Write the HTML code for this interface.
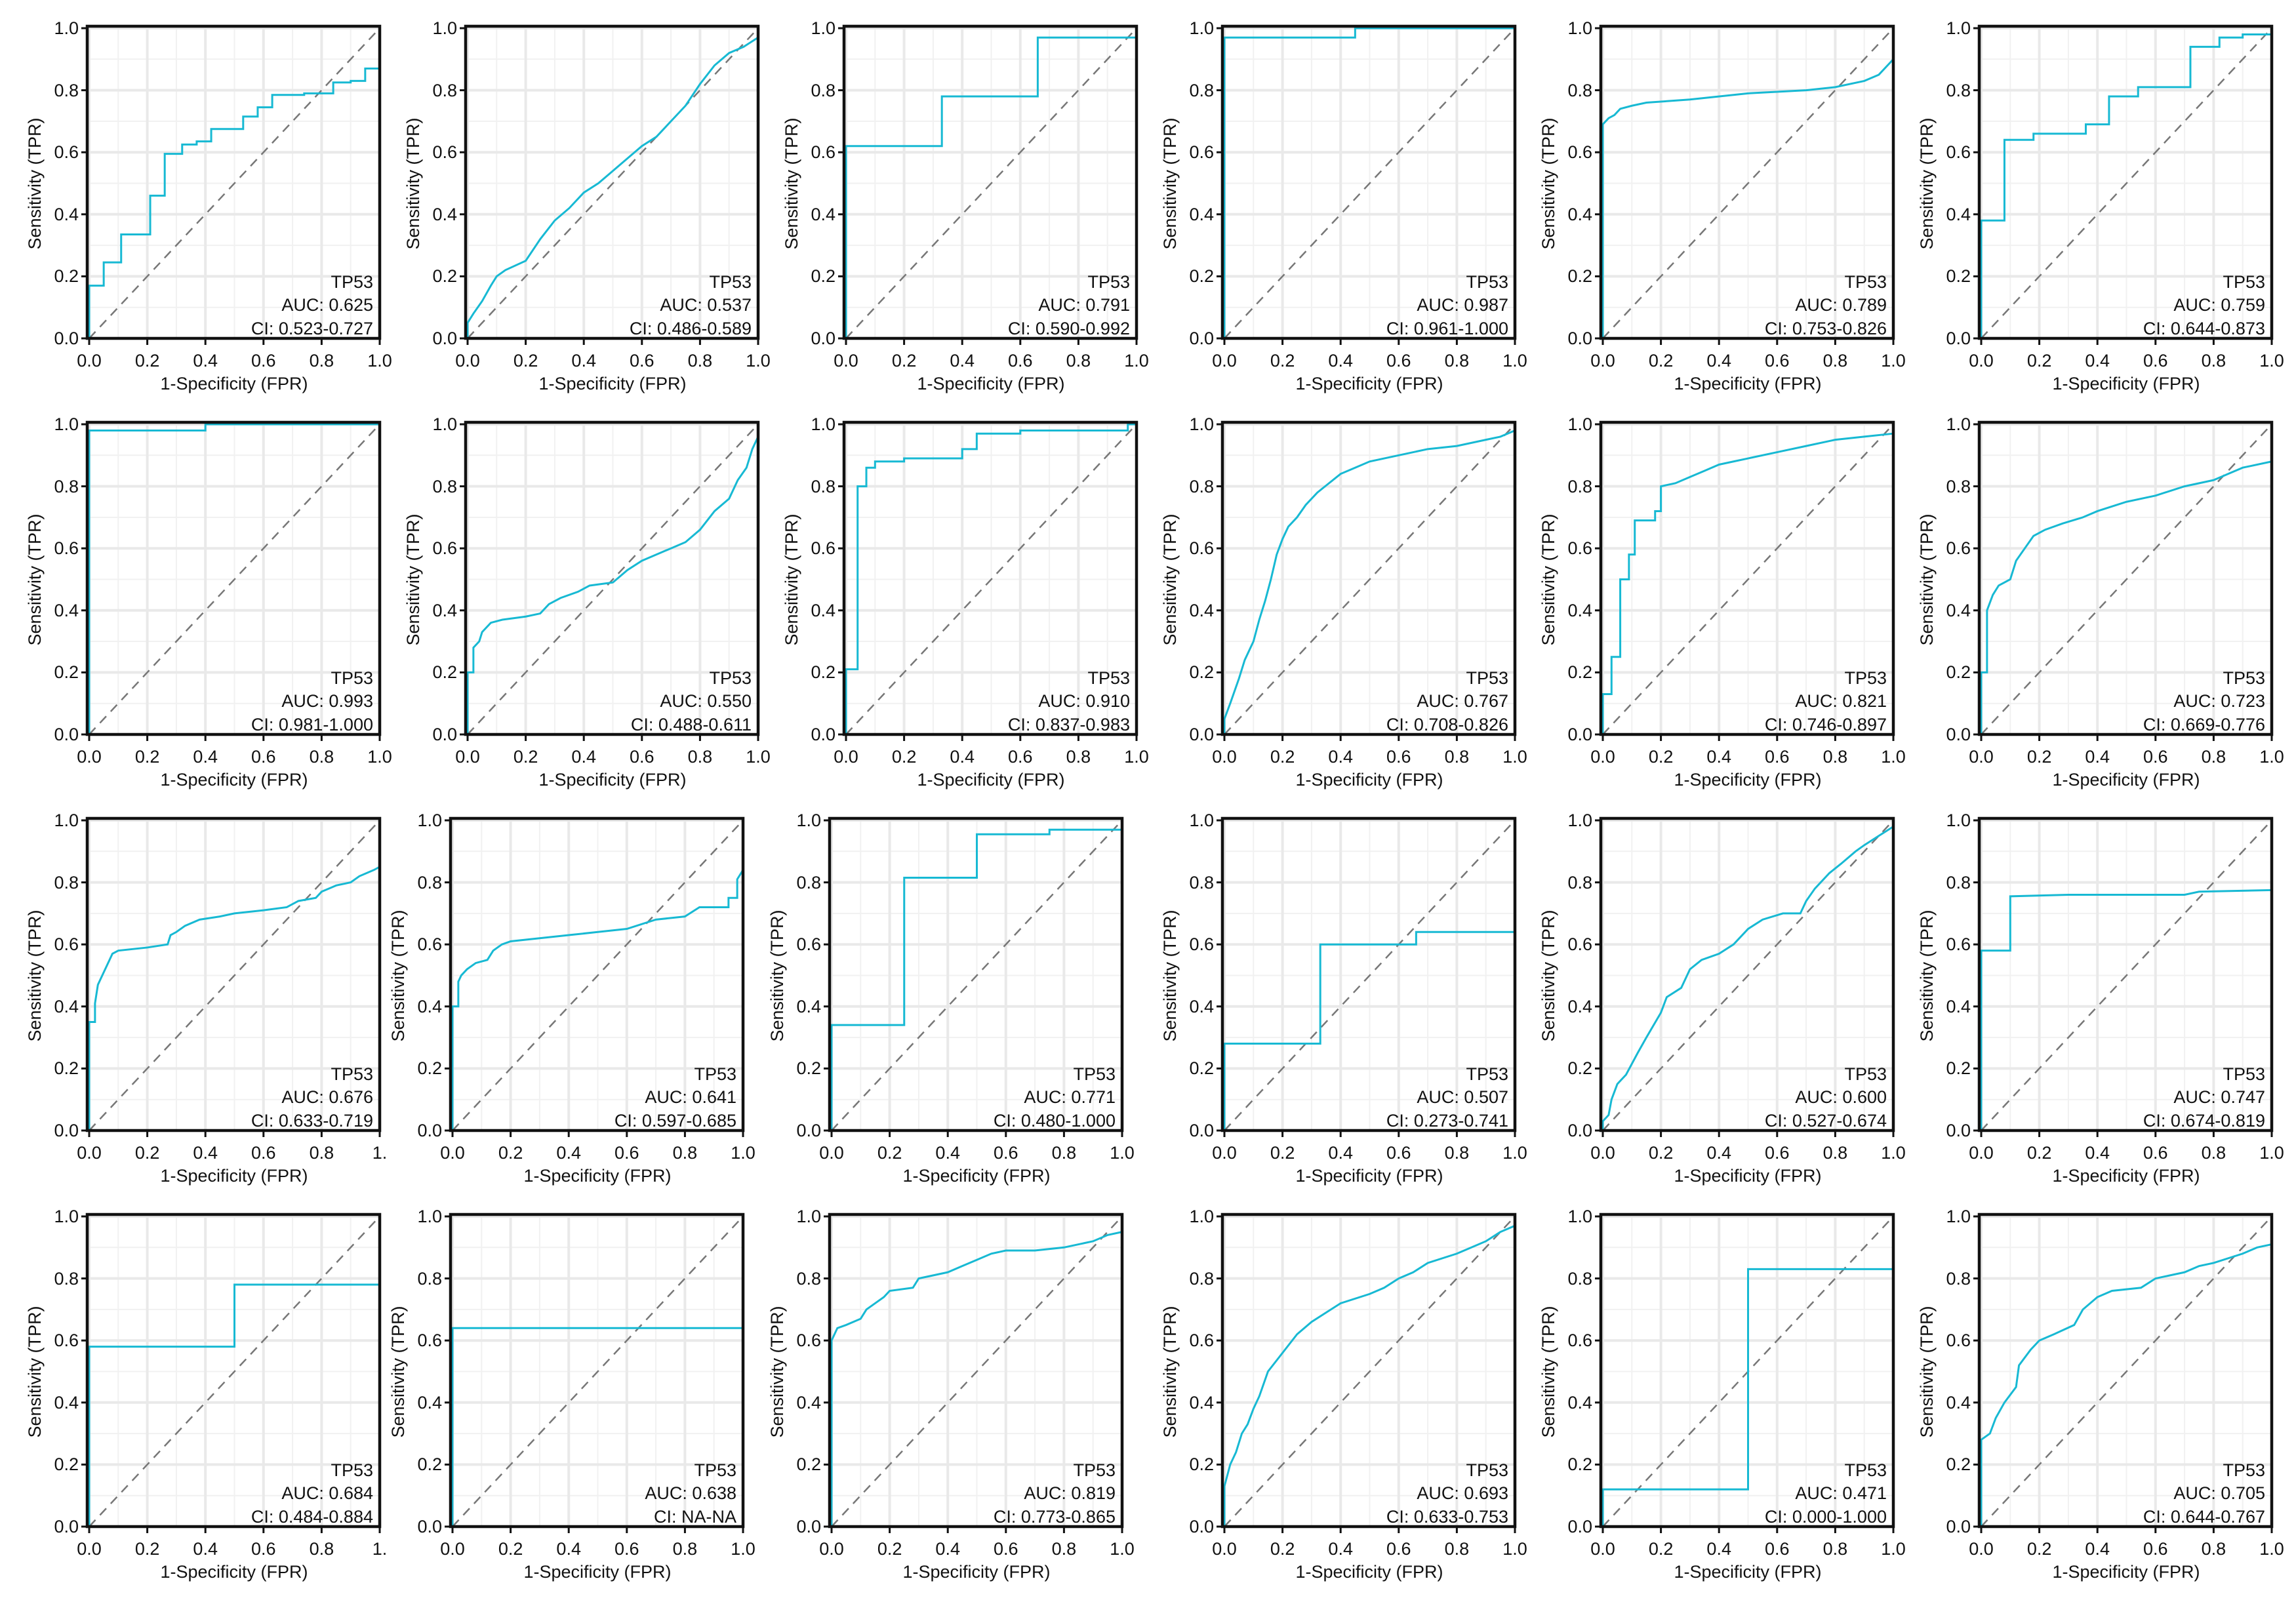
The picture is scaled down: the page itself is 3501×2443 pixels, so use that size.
<!DOCTYPE html>
<html><head><meta charset="utf-8">
<style>
html,body{margin:0;padding:0;background:#fff;}
svg{display:block;}
text{font-family:"Liberation Sans",Arial,sans-serif;fill:#111;font-size:27px;}
.c{fill:none;stroke:#17b9d3;stroke-width:3;vector-effect:non-scaling-stroke;stroke-linejoin:miter;}
.ya{text-anchor:end;}
.xa{text-anchor:middle;}
.an{text-anchor:end;}
</style></head><body>
<svg width="3501" height="2443" viewBox="0 0 3501 2443" xmlns="http://www.w3.org/2000/svg">
<defs>
<g id="bg">
<rect x="-3" y="-476" width="446" height="476" fill="#fff"/>
<g stroke="#f1f1f1" stroke-width="2">
<line x1="44.3" y1="0" x2="44.3" y2="-476"/><line x1="132.9" y1="0" x2="132.9" y2="-476"/><line x1="221.5" y1="0" x2="221.5" y2="-476"/><line x1="310.1" y1="0" x2="310.1" y2="-476"/><line x1="398.7" y1="0" x2="398.7" y2="-476"/>
<line x1="-3" y1="-47.3" x2="443" y2="-47.3"/><line x1="-3" y1="-141.9" x2="443" y2="-141.9"/><line x1="-3" y1="-236.5" x2="443" y2="-236.5"/><line x1="-3" y1="-331.1" x2="443" y2="-331.1"/><line x1="-3" y1="-425.7" x2="443" y2="-425.7"/>
</g>
<g stroke="#e9e9e9" stroke-width="4">
<line x1="0" y1="0" x2="0" y2="-476"/><line x1="88.6" y1="0" x2="88.6" y2="-476"/><line x1="177.2" y1="0" x2="177.2" y2="-476"/><line x1="265.8" y1="0" x2="265.8" y2="-476"/><line x1="354.4" y1="0" x2="354.4" y2="-476"/><line x1="443" y1="0" x2="443" y2="-476"/>
<line x1="-3" y1="0" x2="443" y2="0"/><line x1="-3" y1="-94.6" x2="443" y2="-94.6"/><line x1="-3" y1="-189.2" x2="443" y2="-189.2"/><line x1="-3" y1="-283.8" x2="443" y2="-283.8"/><line x1="-3" y1="-378.4" x2="443" y2="-378.4"/><line x1="-3" y1="-473" x2="443" y2="-473"/>
</g>
<line x1="0" y1="0" x2="443" y2="-473" stroke="#777" stroke-width="2.5" stroke-dasharray="14 10"/>
</g>
<g id="bx">
<rect x="-3" y="-476" width="446" height="476" fill="none" stroke="#111" stroke-width="4.5"/>
<g stroke="#111" stroke-width="3">
<line x1="-3" y1="0" x2="-12" y2="0"/><line x1="-3" y1="-94.6" x2="-12" y2="-94.6"/><line x1="-3" y1="-189.2" x2="-12" y2="-189.2"/><line x1="-3" y1="-283.8" x2="-12" y2="-283.8"/><line x1="-3" y1="-378.4" x2="-12" y2="-378.4"/><line x1="-3" y1="-473" x2="-12" y2="-473"/>
<line x1="0" y1="0" x2="0" y2="10"/><line x1="88.6" y1="0" x2="88.6" y2="10"/><line x1="177.2" y1="0" x2="177.2" y2="10"/><line x1="265.8" y1="0" x2="265.8" y2="10"/><line x1="354.4" y1="0" x2="354.4" y2="10"/><line x1="443" y1="0" x2="443" y2="10"/>
</g>
</g>
</defs>

<!-- Row 1 -->
<g transform="translate(136,516)"><use href="#bg"/><polyline class="c" transform="scale(443,-473)" points="0,0 0,.17 .05,.17 .05,.245 .11,.245 .11,.335 .21,.335 .21,.46 .26,.46 .26,.595 .32,.595 .32,.625 .37,.625 .37,.635 .42,.635 .42,.675 .53,.675 .53,.715 .58,.715 .58,.745 .63,.745 .63,.785 .74,.785 .74,.79 .84,.79 .84,.825 .9,.825 .9,.83 .95,.83 .95,.87 1,.87"/><use href="#bx"/>
<text class="ya"><tspan x="-16" y="9">0.0</tspan><tspan x="-16" y="-86">0.2</tspan><tspan x="-16" y="-180">0.4</tspan><tspan x="-16" y="-275">0.6</tspan><tspan x="-16" y="-369">0.8</tspan><tspan x="-16" y="-464">1.0</tspan></text>
<text class="xa"><tspan x="0" y="43">0.0</tspan><tspan x="88.6" y="43">0.2</tspan><tspan x="177.2" y="43">0.4</tspan><tspan x="265.8" y="43">0.6</tspan><tspan x="354.4" y="43">0.8</tspan><tspan x="443" y="43">1.0</tspan></text>
<text class="xa" x="221" y="78">1-Specificity (FPR)</text><text class="xa" transform="translate(-74,-236) rotate(-90)">Sensitivity (TPR)</text>
<text class="an"><tspan x="433" y="-77">TP53</tspan><tspan x="433" y="-42">AUC: 0.625</tspan><tspan x="433" y="-6">CI: 0.523-0.727</tspan></text></g>

<g transform="translate(713,516)"><use href="#bg"/><polyline class="c" transform="scale(443,-473)" points="0,0 0,.05 .02,.08 .05,.12 .08,.17 .1,.2 .13,.22 .2,.25 .25,.32 .3,.38 .35,.42 .4,.47 .45,.5 .5,.54 .55,.58 .6,.62 .65,.65 .7,.7 .75,.75 .8,.82 .85,.88 .9,.92 .95,.94 1,.97"/><use href="#bx"/>
<text class="ya"><tspan x="-16" y="9">0.0</tspan><tspan x="-16" y="-86">0.2</tspan><tspan x="-16" y="-180">0.4</tspan><tspan x="-16" y="-275">0.6</tspan><tspan x="-16" y="-369">0.8</tspan><tspan x="-16" y="-464">1.0</tspan></text>
<text class="xa"><tspan x="0" y="43">0.0</tspan><tspan x="88.6" y="43">0.2</tspan><tspan x="177.2" y="43">0.4</tspan><tspan x="265.8" y="43">0.6</tspan><tspan x="354.4" y="43">0.8</tspan><tspan x="443" y="43">1.0</tspan></text>
<text class="xa" x="221" y="78">1-Specificity (FPR)</text><text class="xa" transform="translate(-74,-236) rotate(-90)">Sensitivity (TPR)</text>
<text class="an"><tspan x="433" y="-77">TP53</tspan><tspan x="433" y="-42">AUC: 0.537</tspan><tspan x="433" y="-6">CI: 0.486-0.589</tspan></text></g>

<g transform="translate(1290,516)"><use href="#bg"/><polyline class="c" transform="scale(443,-473)" points="0,0 0,.62 .33,.62 .33,.78 .66,.78 .66,.97 1,.97"/><use href="#bx"/>
<text class="ya"><tspan x="-16" y="9">0.0</tspan><tspan x="-16" y="-86">0.2</tspan><tspan x="-16" y="-180">0.4</tspan><tspan x="-16" y="-275">0.6</tspan><tspan x="-16" y="-369">0.8</tspan><tspan x="-16" y="-464">1.0</tspan></text>
<text class="xa"><tspan x="0" y="43">0.0</tspan><tspan x="88.6" y="43">0.2</tspan><tspan x="177.2" y="43">0.4</tspan><tspan x="265.8" y="43">0.6</tspan><tspan x="354.4" y="43">0.8</tspan><tspan x="443" y="43">1.0</tspan></text>
<text class="xa" x="221" y="78">1-Specificity (FPR)</text><text class="xa" transform="translate(-74,-236) rotate(-90)">Sensitivity (TPR)</text>
<text class="an"><tspan x="433" y="-77">TP53</tspan><tspan x="433" y="-42">AUC: 0.791</tspan><tspan x="433" y="-6">CI: 0.590-0.992</tspan></text></g>

<g transform="translate(1867,516)"><use href="#bg"/><polyline class="c" transform="scale(443,-473)" points="0,0 0,.97 .45,.97 .45,1 1,1"/><use href="#bx"/>
<text class="ya"><tspan x="-16" y="9">0.0</tspan><tspan x="-16" y="-86">0.2</tspan><tspan x="-16" y="-180">0.4</tspan><tspan x="-16" y="-275">0.6</tspan><tspan x="-16" y="-369">0.8</tspan><tspan x="-16" y="-464">1.0</tspan></text>
<text class="xa"><tspan x="0" y="43">0.0</tspan><tspan x="88.6" y="43">0.2</tspan><tspan x="177.2" y="43">0.4</tspan><tspan x="265.8" y="43">0.6</tspan><tspan x="354.4" y="43">0.8</tspan><tspan x="443" y="43">1.0</tspan></text>
<text class="xa" x="221" y="78">1-Specificity (FPR)</text><text class="xa" transform="translate(-74,-236) rotate(-90)">Sensitivity (TPR)</text>
<text class="an"><tspan x="433" y="-77">TP53</tspan><tspan x="433" y="-42">AUC: 0.987</tspan><tspan x="433" y="-6">CI: 0.961-1.000</tspan></text></g>

<g transform="translate(2444,516)"><use href="#bg"/><polyline class="c" transform="scale(443,-473)" points="0,0 0,.69 .02,.71 .04,.72 .06,.74 .1,.75 .15,.76 .3,.77 .5,.79 .7,.8 .8,.81 .9,.83 .95,.85 .98,.88 1,.9"/><use href="#bx"/>
<text class="ya"><tspan x="-16" y="9">0.0</tspan><tspan x="-16" y="-86">0.2</tspan><tspan x="-16" y="-180">0.4</tspan><tspan x="-16" y="-275">0.6</tspan><tspan x="-16" y="-369">0.8</tspan><tspan x="-16" y="-464">1.0</tspan></text>
<text class="xa"><tspan x="0" y="43">0.0</tspan><tspan x="88.6" y="43">0.2</tspan><tspan x="177.2" y="43">0.4</tspan><tspan x="265.8" y="43">0.6</tspan><tspan x="354.4" y="43">0.8</tspan><tspan x="443" y="43">1.0</tspan></text>
<text class="xa" x="221" y="78">1-Specificity (FPR)</text><text class="xa" transform="translate(-74,-236) rotate(-90)">Sensitivity (TPR)</text>
<text class="an"><tspan x="433" y="-77">TP53</tspan><tspan x="433" y="-42">AUC: 0.789</tspan><tspan x="433" y="-6">CI: 0.753-0.826</tspan></text></g>

<g transform="translate(3021,516)"><use href="#bg"/><polyline class="c" transform="scale(443,-473)" points="0,0 0,.38 .08,.38 .08,.64 .18,.64 .18,.66 .36,.66 .36,.69 .44,.69 .44,.78 .54,.78 .54,.81 .72,.81 .72,.94 .82,.94 .82,.97 .9,.97 .9,.98 1,.98"/><use href="#bx"/>
<text class="ya"><tspan x="-16" y="9">0.0</tspan><tspan x="-16" y="-86">0.2</tspan><tspan x="-16" y="-180">0.4</tspan><tspan x="-16" y="-275">0.6</tspan><tspan x="-16" y="-369">0.8</tspan><tspan x="-16" y="-464">1.0</tspan></text>
<text class="xa"><tspan x="0" y="43">0.0</tspan><tspan x="88.6" y="43">0.2</tspan><tspan x="177.2" y="43">0.4</tspan><tspan x="265.8" y="43">0.6</tspan><tspan x="354.4" y="43">0.8</tspan><tspan x="443" y="43">1.0</tspan></text>
<text class="xa" x="221" y="78">1-Specificity (FPR)</text><text class="xa" transform="translate(-74,-236) rotate(-90)">Sensitivity (TPR)</text>
<text class="an"><tspan x="433" y="-77">TP53</tspan><tspan x="433" y="-42">AUC: 0.759</tspan><tspan x="433" y="-6">CI: 0.644-0.873</tspan></text></g>

<!-- Row 2 -->
<g transform="translate(136,1120)"><use href="#bg"/><polyline class="c" transform="scale(443,-473)" points="0,0 0,.98 .4,.98 .4,1 1,1"/><use href="#bx"/>
<text class="ya"><tspan x="-16" y="9">0.0</tspan><tspan x="-16" y="-86">0.2</tspan><tspan x="-16" y="-180">0.4</tspan><tspan x="-16" y="-275">0.6</tspan><tspan x="-16" y="-369">0.8</tspan><tspan x="-16" y="-464">1.0</tspan></text>
<text class="xa"><tspan x="0" y="43">0.0</tspan><tspan x="88.6" y="43">0.2</tspan><tspan x="177.2" y="43">0.4</tspan><tspan x="265.8" y="43">0.6</tspan><tspan x="354.4" y="43">0.8</tspan><tspan x="443" y="43">1.0</tspan></text>
<text class="xa" x="221" y="78">1-Specificity (FPR)</text><text class="xa" transform="translate(-74,-236) rotate(-90)">Sensitivity (TPR)</text>
<text class="an"><tspan x="433" y="-77">TP53</tspan><tspan x="433" y="-42">AUC: 0.993</tspan><tspan x="433" y="-6">CI: 0.981-1.000</tspan></text></g>

<g transform="translate(713,1120)"><use href="#bg"/><polyline class="c" transform="scale(443,-473)" points="0,0 0,.2 .02,.2 .02,.28 .04,.3 .05,.33 .08,.36 .12,.37 .2,.38 .25,.39 .28,.42 .32,.44 .38,.46 .42,.48 .5,.49 .55,.53 .6,.56 .65,.58 .7,.6 .75,.62 .8,.66 .85,.72 .9,.76 .93,.82 .96,.86 .98,.92 1,.96"/><use href="#bx"/>
<text class="ya"><tspan x="-16" y="9">0.0</tspan><tspan x="-16" y="-86">0.2</tspan><tspan x="-16" y="-180">0.4</tspan><tspan x="-16" y="-275">0.6</tspan><tspan x="-16" y="-369">0.8</tspan><tspan x="-16" y="-464">1.0</tspan></text>
<text class="xa"><tspan x="0" y="43">0.0</tspan><tspan x="88.6" y="43">0.2</tspan><tspan x="177.2" y="43">0.4</tspan><tspan x="265.8" y="43">0.6</tspan><tspan x="354.4" y="43">0.8</tspan><tspan x="443" y="43">1.0</tspan></text>
<text class="xa" x="221" y="78">1-Specificity (FPR)</text><text class="xa" transform="translate(-74,-236) rotate(-90)">Sensitivity (TPR)</text>
<text class="an"><tspan x="433" y="-77">TP53</tspan><tspan x="433" y="-42">AUC: 0.550</tspan><tspan x="433" y="-6">CI: 0.488-0.611</tspan></text></g>

<g transform="translate(1290,1120)"><use href="#bg"/><polyline class="c" transform="scale(443,-473)" points="0,0 0,.21 .04,.21 .04,.8 .07,.8 .07,.86 .1,.86 .1,.88 .2,.88 .2,.89 .4,.89 .4,.92 .45,.92 .45,.97 .6,.97 .6,.98 .97,.98 .97,1 1,1"/><use href="#bx"/>
<text class="ya"><tspan x="-16" y="9">0.0</tspan><tspan x="-16" y="-86">0.2</tspan><tspan x="-16" y="-180">0.4</tspan><tspan x="-16" y="-275">0.6</tspan><tspan x="-16" y="-369">0.8</tspan><tspan x="-16" y="-464">1.0</tspan></text>
<text class="xa"><tspan x="0" y="43">0.0</tspan><tspan x="88.6" y="43">0.2</tspan><tspan x="177.2" y="43">0.4</tspan><tspan x="265.8" y="43">0.6</tspan><tspan x="354.4" y="43">0.8</tspan><tspan x="443" y="43">1.0</tspan></text>
<text class="xa" x="221" y="78">1-Specificity (FPR)</text><text class="xa" transform="translate(-74,-236) rotate(-90)">Sensitivity (TPR)</text>
<text class="an"><tspan x="433" y="-77">TP53</tspan><tspan x="433" y="-42">AUC: 0.910</tspan><tspan x="433" y="-6">CI: 0.837-0.983</tspan></text></g>

<g transform="translate(1867,1120)"><use href="#bg"/><polyline class="c" transform="scale(443,-473)" points="0,0 0,.05 .02,.1 .05,.18 .07,.24 .1,.3 .12,.37 .14,.43 .16,.5 .18,.58 .2,.63 .22,.67 .25,.7 .28,.74 .32,.78 .36,.81 .4,.84 .45,.86 .5,.88 .6,.9 .7,.92 .8,.93 .9,.95 .95,.96 1,.98"/><use href="#bx"/>
<text class="ya"><tspan x="-16" y="9">0.0</tspan><tspan x="-16" y="-86">0.2</tspan><tspan x="-16" y="-180">0.4</tspan><tspan x="-16" y="-275">0.6</tspan><tspan x="-16" y="-369">0.8</tspan><tspan x="-16" y="-464">1.0</tspan></text>
<text class="xa"><tspan x="0" y="43">0.0</tspan><tspan x="88.6" y="43">0.2</tspan><tspan x="177.2" y="43">0.4</tspan><tspan x="265.8" y="43">0.6</tspan><tspan x="354.4" y="43">0.8</tspan><tspan x="443" y="43">1.0</tspan></text>
<text class="xa" x="221" y="78">1-Specificity (FPR)</text><text class="xa" transform="translate(-74,-236) rotate(-90)">Sensitivity (TPR)</text>
<text class="an"><tspan x="433" y="-77">TP53</tspan><tspan x="433" y="-42">AUC: 0.767</tspan><tspan x="433" y="-6">CI: 0.708-0.826</tspan></text></g>

<g transform="translate(2444,1120)"><use href="#bg"/><polyline class="c" transform="scale(443,-473)" points="0,0 0,.13 .03,.13 .03,.25 .06,.25 .06,.5 .09,.5 .09,.58 .11,.58 .11,.69 .18,.69 .18,.72 .2,.72 .2,.8 .25,.81 .3,.83 .35,.85 .4,.87 .45,.88 .5,.89 .6,.91 .7,.93 .8,.95 .9,.96 1,.97"/><use href="#bx"/>
<text class="ya"><tspan x="-16" y="9">0.0</tspan><tspan x="-16" y="-86">0.2</tspan><tspan x="-16" y="-180">0.4</tspan><tspan x="-16" y="-275">0.6</tspan><tspan x="-16" y="-369">0.8</tspan><tspan x="-16" y="-464">1.0</tspan></text>
<text class="xa"><tspan x="0" y="43">0.0</tspan><tspan x="88.6" y="43">0.2</tspan><tspan x="177.2" y="43">0.4</tspan><tspan x="265.8" y="43">0.6</tspan><tspan x="354.4" y="43">0.8</tspan><tspan x="443" y="43">1.0</tspan></text>
<text class="xa" x="221" y="78">1-Specificity (FPR)</text><text class="xa" transform="translate(-74,-236) rotate(-90)">Sensitivity (TPR)</text>
<text class="an"><tspan x="433" y="-77">TP53</tspan><tspan x="433" y="-42">AUC: 0.821</tspan><tspan x="433" y="-6">CI: 0.746-0.897</tspan></text></g>

<g transform="translate(3021,1120)"><use href="#bg"/><polyline class="c" transform="scale(443,-473)" points="0,0 0,.2 .02,.2 .02,.4 .04,.45 .06,.48 .1,.5 .12,.56 .15,.6 .18,.64 .22,.66 .28,.68 .35,.7 .4,.72 .5,.75 .6,.77 .7,.8 .8,.82 .85,.84 .9,.86 1,.88"/><use href="#bx"/>
<text class="ya"><tspan x="-16" y="9">0.0</tspan><tspan x="-16" y="-86">0.2</tspan><tspan x="-16" y="-180">0.4</tspan><tspan x="-16" y="-275">0.6</tspan><tspan x="-16" y="-369">0.8</tspan><tspan x="-16" y="-464">1.0</tspan></text>
<text class="xa"><tspan x="0" y="43">0.0</tspan><tspan x="88.6" y="43">0.2</tspan><tspan x="177.2" y="43">0.4</tspan><tspan x="265.8" y="43">0.6</tspan><tspan x="354.4" y="43">0.8</tspan><tspan x="443" y="43">1.0</tspan></text>
<text class="xa" x="221" y="78">1-Specificity (FPR)</text><text class="xa" transform="translate(-74,-236) rotate(-90)">Sensitivity (TPR)</text>
<text class="an"><tspan x="433" y="-77">TP53</tspan><tspan x="433" y="-42">AUC: 0.723</tspan><tspan x="433" y="-6">CI: 0.669-0.776</tspan></text></g>

<!-- Row 3 -->
<g transform="translate(136,1724)"><use href="#bg"/><polyline class="c" transform="scale(443,-473)" points="0,0 0,.35 .02,.35 .02,.41 .03,.47 .05,.51 .07,.55 .08,.57 .1,.58 .2,.59 .27,.6 .28,.63 .3,.64 .33,.66 .38,.68 .45,.69 .5,.7 .6,.71 .68,.72 .72,.74 .78,.75 .8,.77 .85,.79 .9,.8 .93,.82 .98,.84 1,.85"/><use href="#bx"/>
<text class="ya"><tspan x="-16" y="9">0.0</tspan><tspan x="-16" y="-86">0.2</tspan><tspan x="-16" y="-180">0.4</tspan><tspan x="-16" y="-275">0.6</tspan><tspan x="-16" y="-369">0.8</tspan><tspan x="-16" y="-464">1.0</tspan></text>
<text class="xa"><tspan x="0" y="43">0.0</tspan><tspan x="88.6" y="43">0.2</tspan><tspan x="177.2" y="43">0.4</tspan><tspan x="265.8" y="43">0.6</tspan><tspan x="354.4" y="43">0.8</tspan><tspan x="443" y="43">1.</tspan></text>
<text class="xa" x="221" y="78">1-Specificity (FPR)</text><text class="xa" transform="translate(-74,-236) rotate(-90)">Sensitivity (TPR)</text>
<text class="an"><tspan x="433" y="-77">TP53</tspan><tspan x="433" y="-42">AUC: 0.676</tspan><tspan x="433" y="-6">CI: 0.633-0.719</tspan></text></g>

<g transform="translate(690,1724)"><use href="#bg"/><polyline class="c" transform="scale(443,-473)" points="0,0 0,.4 .02,.4 .02,.48 .03,.5 .05,.52 .08,.54 .12,.55 .14,.58 .17,.6 .2,.61 .3,.62 .4,.63 .5,.64 .6,.65 .7,.68 .8,.69 .85,.72 .95,.72 .95,.75 .98,.75 .98,.81 1,.84"/><use href="#bx"/>
<text class="ya"><tspan x="-16" y="9">0.0</tspan><tspan x="-16" y="-86">0.2</tspan><tspan x="-16" y="-180">0.4</tspan><tspan x="-16" y="-275">0.6</tspan><tspan x="-16" y="-369">0.8</tspan><tspan x="-16" y="-464">1.0</tspan></text>
<text class="xa"><tspan x="0" y="43">0.0</tspan><tspan x="88.6" y="43">0.2</tspan><tspan x="177.2" y="43">0.4</tspan><tspan x="265.8" y="43">0.6</tspan><tspan x="354.4" y="43">0.8</tspan><tspan x="443" y="43">1.0</tspan></text>
<text class="xa" x="221" y="78">1-Specificity (FPR)</text><text class="xa" transform="translate(-74,-236) rotate(-90)">Sensitivity (TPR)</text>
<text class="an"><tspan x="433" y="-77">TP53</tspan><tspan x="433" y="-42">AUC: 0.641</tspan><tspan x="433" y="-6">CI: 0.597-0.685</tspan></text></g>

<g transform="translate(1268,1724)"><use href="#bg"/><polyline class="c" transform="scale(443,-473)" points="0,0 0,.34 .25,.34 .25,.815 .5,.815 .5,.955 .75,.955 .75,.97 1,.97"/><use href="#bx"/>
<text class="ya"><tspan x="-16" y="9">0.0</tspan><tspan x="-16" y="-86">0.2</tspan><tspan x="-16" y="-180">0.4</tspan><tspan x="-16" y="-275">0.6</tspan><tspan x="-16" y="-369">0.8</tspan><tspan x="-16" y="-464">1.0</tspan></text>
<text class="xa"><tspan x="0" y="43">0.0</tspan><tspan x="88.6" y="43">0.2</tspan><tspan x="177.2" y="43">0.4</tspan><tspan x="265.8" y="43">0.6</tspan><tspan x="354.4" y="43">0.8</tspan><tspan x="443" y="43">1.0</tspan></text>
<text class="xa" x="221" y="78">1-Specificity (FPR)</text><text class="xa" transform="translate(-74,-236) rotate(-90)">Sensitivity (TPR)</text>
<text class="an"><tspan x="433" y="-77">TP53</tspan><tspan x="433" y="-42">AUC: 0.771</tspan><tspan x="433" y="-6">CI: 0.480-1.000</tspan></text></g>

<g transform="translate(1867,1724)"><use href="#bg"/><polyline class="c" transform="scale(443,-473)" points="0,0 0,.28 .33,.28 .33,.6 .66,.6 .66,.64 1,.64"/><use href="#bx"/>
<text class="ya"><tspan x="-16" y="9">0.0</tspan><tspan x="-16" y="-86">0.2</tspan><tspan x="-16" y="-180">0.4</tspan><tspan x="-16" y="-275">0.6</tspan><tspan x="-16" y="-369">0.8</tspan><tspan x="-16" y="-464">1.0</tspan></text>
<text class="xa"><tspan x="0" y="43">0.0</tspan><tspan x="88.6" y="43">0.2</tspan><tspan x="177.2" y="43">0.4</tspan><tspan x="265.8" y="43">0.6</tspan><tspan x="354.4" y="43">0.8</tspan><tspan x="443" y="43">1.0</tspan></text>
<text class="xa" x="221" y="78">1-Specificity (FPR)</text><text class="xa" transform="translate(-74,-236) rotate(-90)">Sensitivity (TPR)</text>
<text class="an"><tspan x="433" y="-77">TP53</tspan><tspan x="433" y="-42">AUC: 0.507</tspan><tspan x="433" y="-6">CI: 0.273-0.741</tspan></text></g>

<g transform="translate(2444,1724)"><use href="#bg"/><polyline class="c" transform="scale(443,-473)" points="0,0 0,.03 .02,.05 .03,.1 .05,.15 .08,.18 .12,.25 .15,.3 .2,.38 .22,.43 .27,.46 .3,.52 .34,.55 .4,.57 .45,.6 .5,.65 .55,.68 .62,.7 .68,.7 .7,.74 .73,.78 .78,.83 .82,.86 .87,.9 .9,.92 .95,.95 1,.98"/><use href="#bx"/>
<text class="ya"><tspan x="-16" y="9">0.0</tspan><tspan x="-16" y="-86">0.2</tspan><tspan x="-16" y="-180">0.4</tspan><tspan x="-16" y="-275">0.6</tspan><tspan x="-16" y="-369">0.8</tspan><tspan x="-16" y="-464">1.0</tspan></text>
<text class="xa"><tspan x="0" y="43">0.0</tspan><tspan x="88.6" y="43">0.2</tspan><tspan x="177.2" y="43">0.4</tspan><tspan x="265.8" y="43">0.6</tspan><tspan x="354.4" y="43">0.8</tspan><tspan x="443" y="43">1.0</tspan></text>
<text class="xa" x="221" y="78">1-Specificity (FPR)</text><text class="xa" transform="translate(-74,-236) rotate(-90)">Sensitivity (TPR)</text>
<text class="an"><tspan x="433" y="-77">TP53</tspan><tspan x="433" y="-42">AUC: 0.600</tspan><tspan x="433" y="-6">CI: 0.527-0.674</tspan></text></g>

<g transform="translate(3021,1724)"><use href="#bg"/><polyline class="c" transform="scale(443,-473)" points="0,0 0,.58 .1,.58 .1,.755 .3,.76 .7,.76 .75,.77 1,.775"/><use href="#bx"/>
<text class="ya"><tspan x="-16" y="9">0.0</tspan><tspan x="-16" y="-86">0.2</tspan><tspan x="-16" y="-180">0.4</tspan><tspan x="-16" y="-275">0.6</tspan><tspan x="-16" y="-369">0.8</tspan><tspan x="-16" y="-464">1.0</tspan></text>
<text class="xa"><tspan x="0" y="43">0.0</tspan><tspan x="88.6" y="43">0.2</tspan><tspan x="177.2" y="43">0.4</tspan><tspan x="265.8" y="43">0.6</tspan><tspan x="354.4" y="43">0.8</tspan><tspan x="443" y="43">1.0</tspan></text>
<text class="xa" x="221" y="78">1-Specificity (FPR)</text><text class="xa" transform="translate(-74,-236) rotate(-90)">Sensitivity (TPR)</text>
<text class="an"><tspan x="433" y="-77">TP53</tspan><tspan x="433" y="-42">AUC: 0.747</tspan><tspan x="433" y="-6">CI: 0.674-0.819</tspan></text></g>

<!-- Row 4 -->
<g transform="translate(136,2328)"><use href="#bg"/><polyline class="c" transform="scale(443,-473)" points="0,0 0,.58 .5,.58 .5,.78 1,.78"/><use href="#bx"/>
<text class="ya"><tspan x="-16" y="9">0.0</tspan><tspan x="-16" y="-86">0.2</tspan><tspan x="-16" y="-180">0.4</tspan><tspan x="-16" y="-275">0.6</tspan><tspan x="-16" y="-369">0.8</tspan><tspan x="-16" y="-464">1.0</tspan></text>
<text class="xa"><tspan x="0" y="43">0.0</tspan><tspan x="88.6" y="43">0.2</tspan><tspan x="177.2" y="43">0.4</tspan><tspan x="265.8" y="43">0.6</tspan><tspan x="354.4" y="43">0.8</tspan><tspan x="443" y="43">1.</tspan></text>
<text class="xa" x="221" y="78">1-Specificity (FPR)</text><text class="xa" transform="translate(-74,-236) rotate(-90)">Sensitivity (TPR)</text>
<text class="an"><tspan x="433" y="-77">TP53</tspan><tspan x="433" y="-42">AUC: 0.684</tspan><tspan x="433" y="-6">CI: 0.484-0.884</tspan></text></g>

<g transform="translate(690,2328)"><use href="#bg"/><polyline class="c" transform="scale(443,-473)" points="0,0 0,.64 1,.64"/><use href="#bx"/>
<text class="ya"><tspan x="-16" y="9">0.0</tspan><tspan x="-16" y="-86">0.2</tspan><tspan x="-16" y="-180">0.4</tspan><tspan x="-16" y="-275">0.6</tspan><tspan x="-16" y="-369">0.8</tspan><tspan x="-16" y="-464">1.0</tspan></text>
<text class="xa"><tspan x="0" y="43">0.0</tspan><tspan x="88.6" y="43">0.2</tspan><tspan x="177.2" y="43">0.4</tspan><tspan x="265.8" y="43">0.6</tspan><tspan x="354.4" y="43">0.8</tspan><tspan x="443" y="43">1.0</tspan></text>
<text class="xa" x="221" y="78">1-Specificity (FPR)</text><text class="xa" transform="translate(-74,-236) rotate(-90)">Sensitivity (TPR)</text>
<text class="an"><tspan x="433" y="-77">TP53</tspan><tspan x="433" y="-42">AUC: 0.638</tspan><tspan x="433" y="-6">CI: NA-NA</tspan></text></g>

<g transform="translate(1268,2328)"><use href="#bg"/><polyline class="c" transform="scale(443,-473)" points="0,0 0,.6 .02,.64 .05,.65 .1,.67 .12,.7 .15,.72 .18,.74 .2,.76 .28,.77 .3,.8 .4,.82 .45,.84 .5,.86 .55,.88 .6,.89 .7,.89 .8,.9 .9,.92 .95,.94 1,.95"/><use href="#bx"/>
<text class="ya"><tspan x="-16" y="9">0.0</tspan><tspan x="-16" y="-86">0.2</tspan><tspan x="-16" y="-180">0.4</tspan><tspan x="-16" y="-275">0.6</tspan><tspan x="-16" y="-369">0.8</tspan><tspan x="-16" y="-464">1.0</tspan></text>
<text class="xa"><tspan x="0" y="43">0.0</tspan><tspan x="88.6" y="43">0.2</tspan><tspan x="177.2" y="43">0.4</tspan><tspan x="265.8" y="43">0.6</tspan><tspan x="354.4" y="43">0.8</tspan><tspan x="443" y="43">1.0</tspan></text>
<text class="xa" x="221" y="78">1-Specificity (FPR)</text><text class="xa" transform="translate(-74,-236) rotate(-90)">Sensitivity (TPR)</text>
<text class="an"><tspan x="433" y="-77">TP53</tspan><tspan x="433" y="-42">AUC: 0.819</tspan><tspan x="433" y="-6">CI: 0.773-0.865</tspan></text></g>

<g transform="translate(1867,2328)"><use href="#bg"/><polyline class="c" transform="scale(443,-473)" points="0,0 0,.13 .02,.2 .04,.24 .06,.3 .08,.33 .1,.38 .12,.42 .15,.5 .2,.56 .25,.62 .3,.66 .35,.69 .4,.72 .5,.75 .55,.77 .6,.8 .65,.82 .7,.85 .8,.88 .9,.92 .95,.95 1,.97"/><use href="#bx"/>
<text class="ya"><tspan x="-16" y="9">0.0</tspan><tspan x="-16" y="-86">0.2</tspan><tspan x="-16" y="-180">0.4</tspan><tspan x="-16" y="-275">0.6</tspan><tspan x="-16" y="-369">0.8</tspan><tspan x="-16" y="-464">1.0</tspan></text>
<text class="xa"><tspan x="0" y="43">0.0</tspan><tspan x="88.6" y="43">0.2</tspan><tspan x="177.2" y="43">0.4</tspan><tspan x="265.8" y="43">0.6</tspan><tspan x="354.4" y="43">0.8</tspan><tspan x="443" y="43">1.0</tspan></text>
<text class="xa" x="221" y="78">1-Specificity (FPR)</text><text class="xa" transform="translate(-74,-236) rotate(-90)">Sensitivity (TPR)</text>
<text class="an"><tspan x="433" y="-77">TP53</tspan><tspan x="433" y="-42">AUC: 0.693</tspan><tspan x="433" y="-6">CI: 0.633-0.753</tspan></text></g>

<g transform="translate(2444,2328)"><use href="#bg"/><polyline class="c" transform="scale(443,-473)" points="0,0 0,.12 .5,.12 .5,.83 1,.83"/><use href="#bx"/>
<text class="ya"><tspan x="-16" y="9">0.0</tspan><tspan x="-16" y="-86">0.2</tspan><tspan x="-16" y="-180">0.4</tspan><tspan x="-16" y="-275">0.6</tspan><tspan x="-16" y="-369">0.8</tspan><tspan x="-16" y="-464">1.0</tspan></text>
<text class="xa"><tspan x="0" y="43">0.0</tspan><tspan x="88.6" y="43">0.2</tspan><tspan x="177.2" y="43">0.4</tspan><tspan x="265.8" y="43">0.6</tspan><tspan x="354.4" y="43">0.8</tspan><tspan x="443" y="43">1.0</tspan></text>
<text class="xa" x="221" y="78">1-Specificity (FPR)</text><text class="xa" transform="translate(-74,-236) rotate(-90)">Sensitivity (TPR)</text>
<text class="an"><tspan x="433" y="-77">TP53</tspan><tspan x="433" y="-42">AUC: 0.471</tspan><tspan x="433" y="-6">CI: 0.000-1.000</tspan></text></g>

<g transform="translate(3021,2328)"><use href="#bg"/><polyline class="c" transform="scale(443,-473)" points="0,0 0,.28 .03,.3 .05,.35 .08,.4 .12,.45 .13,.52 .17,.57 .2,.6 .25,.62 .32,.65 .35,.7 .4,.74 .45,.76 .55,.77 .6,.8 .65,.81 .7,.82 .75,.84 .8,.85 .9,.88 .95,.9 1,.91"/><use href="#bx"/>
<text class="ya"><tspan x="-16" y="9">0.0</tspan><tspan x="-16" y="-86">0.2</tspan><tspan x="-16" y="-180">0.4</tspan><tspan x="-16" y="-275">0.6</tspan><tspan x="-16" y="-369">0.8</tspan><tspan x="-16" y="-464">1.0</tspan></text>
<text class="xa"><tspan x="0" y="43">0.0</tspan><tspan x="88.6" y="43">0.2</tspan><tspan x="177.2" y="43">0.4</tspan><tspan x="265.8" y="43">0.6</tspan><tspan x="354.4" y="43">0.8</tspan><tspan x="443" y="43">1.0</tspan></text>
<text class="xa" x="221" y="78">1-Specificity (FPR)</text><text class="xa" transform="translate(-74,-236) rotate(-90)">Sensitivity (TPR)</text>
<text class="an"><tspan x="433" y="-77">TP53</tspan><tspan x="433" y="-42">AUC: 0.705</tspan><tspan x="433" y="-6">CI: 0.644-0.767</tspan></text></g>
</svg>
</body></html>
